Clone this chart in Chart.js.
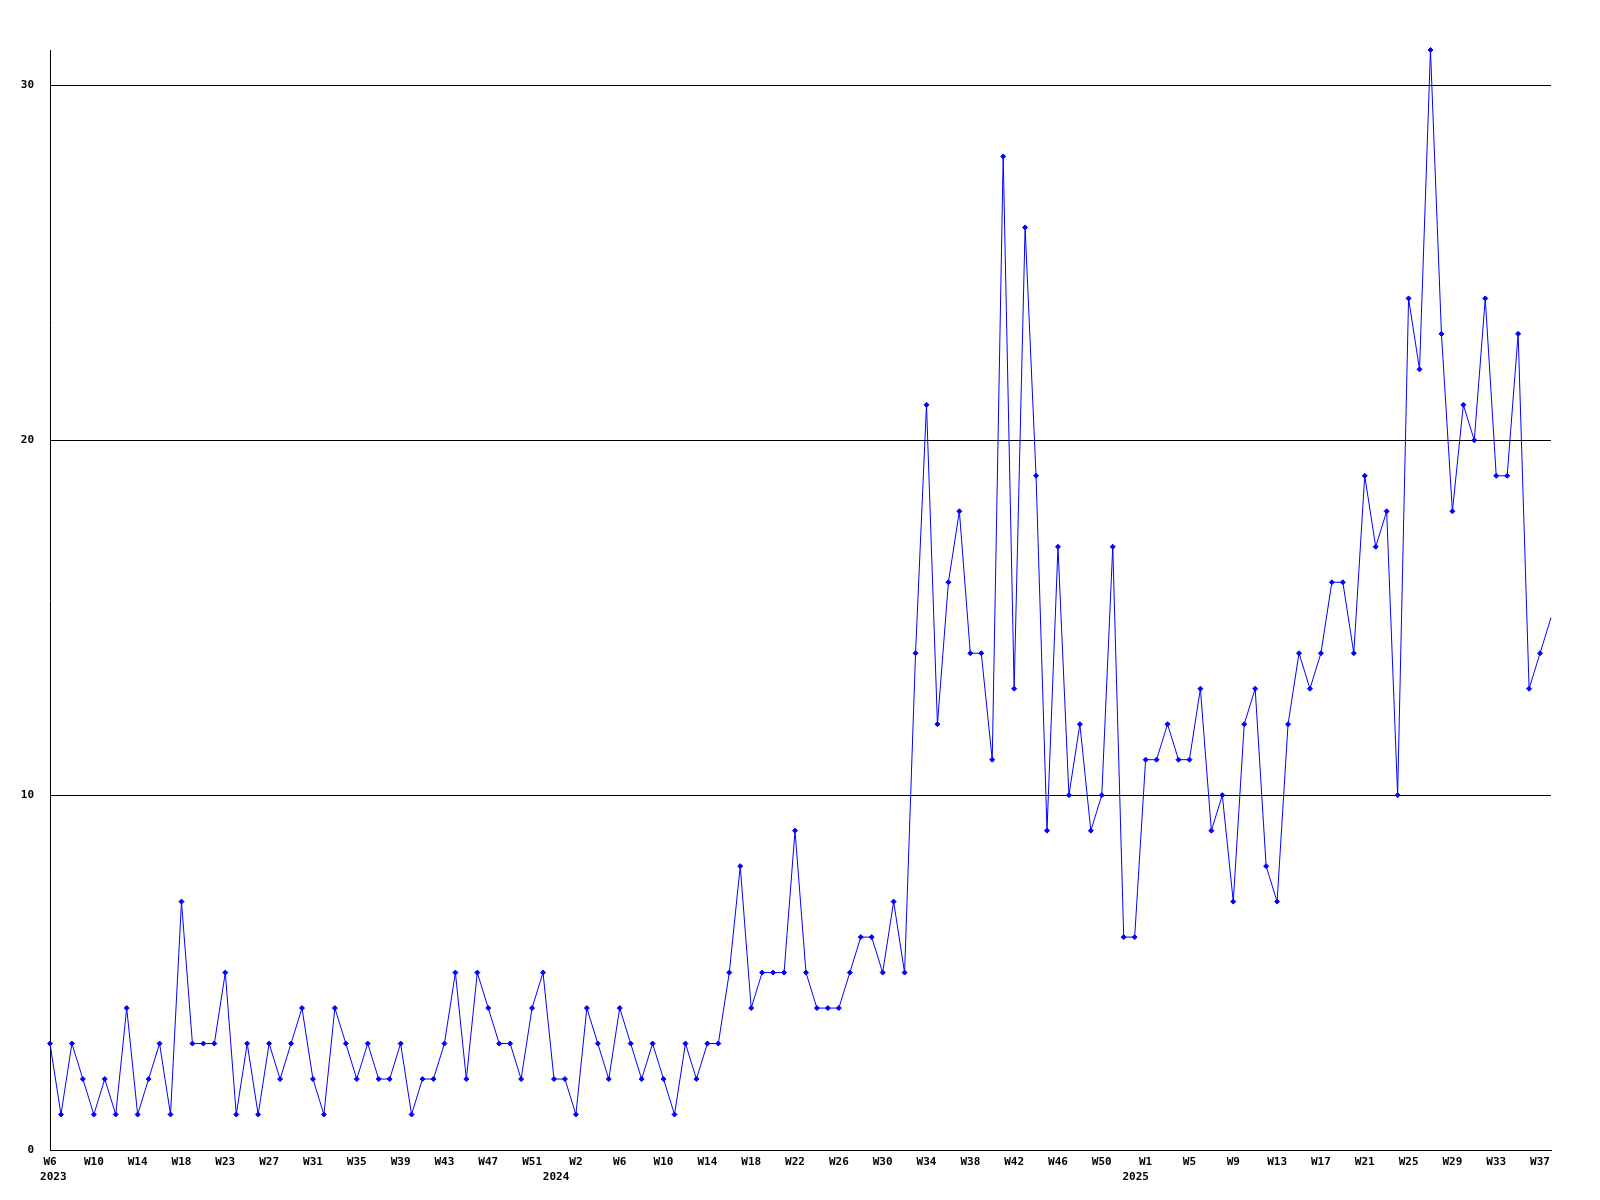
<!DOCTYPE html>
<html>
<head>
<meta charset="utf-8">
<title>Weekly count</title>
<script src="https://cdn.jsdelivr.net/npm/chart.js@4.4.1/dist/chart.umd.min.js"></script>
<style>
  html, body { margin: 0; padding: 0; background: #fff; }
  #wrap { width: 1600px; height: 1200px; }
</style>
</head>
<body>
<div id="wrap"><canvas id="lineChart" width="1600" height="1200"></canvas></div>
<script>
// one value per week, first point is 2023 W6, last one is the running week
const counts = [
    3, 1, 3, 2, 1, 2, 1, 4, 1, 2,
    3, 1, 7, 3, 3, 3, 5, 1, 3, 1,
    3, 2, 3, 4, 2, 1, 4, 3, 2, 3,
    2, 2, 3, 1, 2, 2, 3, 5, 2, 5,
    4, 3, 3, 2, 4, 5, 2, 2, 1, 4,
    3, 2, 4, 3, 2, 3, 2, 1, 3, 2,
    3, 3, 5, 8, 4, 5, 5, 5, 9, 5,
    4, 4, 4, 5, 6, 6, 5, 7, 5, 14,
    21, 12, 16, 18, 14, 14, 11, 28, 13, 26,
    19, 9, 17, 10, 12, 9, 10, 17, 6, 6,
    11, 11, 12, 11, 11, 13, 9, 10, 7, 12,
    13, 8, 7, 12, 14, 13, 14, 16, 16, 14,
    19, 17, 18, 10, 24, 22, 31, 23, 18, 21,
    20, 24, 19, 19, 23, 13, 14, 15
];

// a label every 4th week
const tickLabels = [
    'W6', 'W10', 'W14', 'W18', 'W23', 'W27', 'W31', 'W35', 'W39', 'W43', 'W47', 'W51',
    'W2', 'W6', 'W10', 'W14', 'W18', 'W22', 'W26', 'W30', 'W34', 'W38', 'W42', 'W46', 'W50',
    'W1', 'W5', 'W9', 'W13', 'W17', 'W21', 'W25', 'W29', 'W33', 'W37'
];
// year goes on a second line under these week labels
// (the spaces nudge the year a bit off the tick, like the original)
const yearLabels = [' 2023', '2024      ', '2025   '];
const yearAtTick = [0, 12, 25];
const yTicks = [0, 10, 20, 30];

const tickStep = 4;
const font = { family: '"DejaVu Sans Mono", "Liberation Mono", monospace', size: 11, weight: 'bold', lineHeight: '15px' };

let ready = (callback) => {
    if (document.readyState != "loading") callback();
    else document.addEventListener("DOMContentLoaded", callback);
}

ready(() => {
    var ctx = document.getElementById("lineChart").getContext("2d");
    const points = counts.map((v, i) => ({ x: i, y: v }));
    // running week has no marker
    const radius = counts.map((v, i) => i == counts.length - 1 ? 0 : 2.5);

    lineChart = new Chart(ctx, {
        type: "line",
        data: {
            datasets: [{
                data: points,
                borderColor: "#0000ff",
                backgroundColor: "#0000ff",
                borderWidth: 1,
                pointStyle: "rectRot",
                pointRadius: radius,
                pointBorderWidth: 1,
                tension: 0,
                clip: false
            }]
        },
        options: {
            responsive: false,
            animation: false,
            devicePixelRatio: 1,
            layout: { padding: { top: 50, right: 49, left: 0, bottom: 0 } },
            plugins: { legend: { display: false }, tooltip: { enabled: false } },
            scales: {
                x: {
                    type: "linear",
                    min: 0,
                    max: counts.length - 1,
                    afterFit: s => { s.height = 50; },
                    afterBuildTicks: s => { s.ticks = tickLabels.map((_, i) => ({ value: i * tickStep })); },
                    grid: { display: false, drawTicks: false },
                    border: { display: true, color: "#000", width: 1 },
                    ticks: {
                        autoSkip: false,
                        maxRotation: 0,
                        padding: 5,
                        color: "#000",
                        font: font,
                        callback: (v) => {
                            const k = Math.round(v / tickStep);
                            const y = yearAtTick.indexOf(k);
                            return y >= 0 ? [tickLabels[k], yearLabels[y]] : tickLabels[k];
                        }
                    }
                },
                y: {
                    min: 0,
                    max: 31,
                    afterFit: s => { s.width = 50; },
                    afterBuildTicks: s => { s.ticks = yTicks.map(v => ({ value: v })); },
                    grid: { color: "#000", lineWidth: 1, drawTicks: false },
                    border: { display: true, color: "#000", width: 1 },
                    ticks: { padding: 16, color: "#000", font: font }
                }
            }
        }
    });
});
</script>
</body>
</html>
